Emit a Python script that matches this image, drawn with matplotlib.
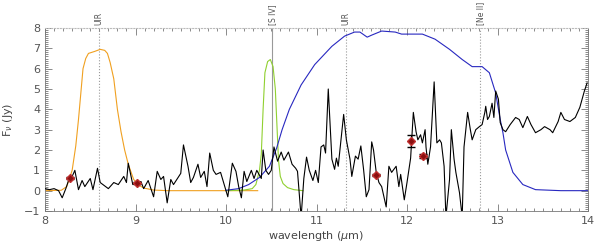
from matplotlib import pyplot as plt
from matplotlib.ticker import MultipleLocator
import numpy as np

# observed spectrum (wavelength in micron, flux in Jy)
spec_wl = [8.00, 8.05, 8.10, 8.15, 8.19, 8.23, 8.26, 8.29, 8.33, 8.37, 8.41, 8.44, 8.50, 8.53,
           8.58, 8.61, 8.64, 8.70, 8.76, 8.81, 8.87, 8.90, 8.92, 8.97, 9.02, 9.06, 9.09, 9.14,
           9.20, 9.24, 9.28, 9.31, 9.35, 9.39, 9.42, 9.47, 9.50, 9.53, 9.58, 9.61, 9.64, 9.69,
           9.72, 9.76, 9.79, 9.82, 9.86, 9.89, 9.94, 9.98, 10.02, 10.07, 10.11, 10.14, 10.17,
           10.20, 10.23, 10.28, 10.31, 10.34, 10.39, 10.41, 10.44, 10.47, 10.50, 10.53, 10.57,
           10.61, 10.64, 10.69, 10.73, 10.77, 10.79, 10.83, 10.86, 10.89, 10.92, 10.96, 10.99,
           11.02, 11.05, 11.08, 11.10, 11.13, 11.17, 11.20, 11.22, 11.24, 11.30, 11.33, 11.37,
           11.39, 11.43, 11.46, 11.49, 11.52, 11.55, 11.58, 11.61, 11.63, 11.66, 11.69, 11.72,
           11.77, 11.80, 11.83, 11.88, 11.91, 11.93, 11.97, 12.00, 12.04, 12.07, 12.10, 12.12,
           12.15, 12.17, 12.20, 12.21, 12.23, 12.26, 12.30, 12.33, 12.36, 12.38, 12.41, 12.43,
           12.47, 12.49, 12.52, 12.54, 12.58, 12.61, 12.63, 12.67, 12.70, 12.72, 12.76, 12.80,
           12.83, 12.86, 12.87, 12.89, 12.91, 12.94, 12.96, 12.98, 13.01, 13.03, 13.06, 13.09,
           13.14, 13.20, 13.24, 13.28, 13.33, 13.37, 13.42, 13.48, 13.52, 13.58, 13.61, 13.67,
           13.70, 13.74, 13.80, 13.86, 13.91, 13.96, 13.99]
spec_flux = [0.1, 0.05, 0.1, 0.0, -0.35, 0.1, 0.5, 0.6, 1.0, 0.05, 0.5, 0.2, 0.6, 0.05,
             1.1, 0.4, 0.3, 0.1, 0.4, 0.3, 0.7, 0.4, 1.35, 0.3, 0.4, 0.45, 0.1, 0.5,
             -0.3, 0.95, 0.55, 0.7, -0.6, 0.55, 0.3, 0.65, 0.85, 2.25, 1.2, 0.4, 0.65, 1.3,
             0.65, 0.95, 0.2, 1.85, 1.0, 0.8, 0.9, 0.3, -0.3, 1.35, 0.95, 0.2, -0.35,
             0.95, 0.45, 1.0, 0.6, 1.0, 0.6, 2.0, 1.0, 0.8, 1.0, 2.15, 1.45,
             1.9, 1.5, 1.9, 1.3, 1.1, 0.95, -1.3, 0.6, 1.65, 1.0, 0.5, 1.0,
             0.4, 2.15, 2.25, 1.85, 5.0, 1.55, 1.05, 1.6, 1.2, 3.75, 2.5, 1.55,
             0.7, 1.7, 1.55, 2.2, 1.05, -0.3, 0.05, 2.4, 2.0, 0.9, 0.4, 0.2,
             -0.8, 1.2, 0.9, 1.2, 0.2, 0.8, -0.45, 0.4, 1.6, 3.85, 2.9, 2.5,
             2.75, 2.35, 3.0, 2.15, 1.3, 2.15, 5.35, 2.35, 2.5, 2.35, 1.2, -1.3,
             0.55, 3.0, 1.55, 0.9, -0.1, -1.3, 2.15, 3.85, 3.0, 2.5, 3.0, 3.15,
             3.25, 3.85, 4.15, 3.5, 3.65, 4.3, 3.6, 4.9, 4.5, 3.35, 3.0, 2.9,
             3.25, 3.6, 3.5, 3.1, 3.65, 3.25, 2.85, 3.0, 3.15, 3.0, 2.85, 3.4,
             3.85, 3.5, 3.4, 3.6, 4.1, 4.9, 5.3]

# filter transmission curves (scaled)
orange_wl = [8.0, 8.18, 8.24, 8.30, 8.34, 8.37, 8.40, 8.42, 8.45, 8.48, 8.55, 8.61, 8.66, 8.69,
             8.72, 8.76, 8.80, 8.84, 8.88, 8.92, 8.98, 9.04, 9.10, 9.2, 9.35, 10.35]
orange_val = [0.0, 0.02, 0.2, 1.0, 2.2, 3.5, 5.0, 6.0, 6.5, 6.75, 6.85, 6.95, 6.9, 6.75,
              6.3, 5.5, 4.0, 2.9, 2.0, 1.3, 0.55, 0.25, 0.12, 0.03, 0.0, 0.0]

green_wl = [10.0, 10.2, 10.29, 10.33, 10.37, 10.39, 10.41, 10.43, 10.46, 10.49, 10.52, 10.545,
            10.56, 10.58, 10.60, 10.63, 10.68, 10.75, 10.85]
green_val = [0.0, 0.03, 0.1, 0.3, 1.0, 1.8, 4.0, 5.8, 6.35, 6.45, 6.1, 5.0,
             3.5, 1.5, 0.7, 0.35, 0.15, 0.05, 0.0]

blue_wl = [10.0, 10.14, 10.25, 10.37, 10.48, 10.56, 10.62, 10.70, 10.83, 10.98, 11.17, 11.31,
           11.42, 11.48, 11.56, 11.61, 11.72, 11.87, 11.94, 12.17, 12.31, 12.47, 12.61, 12.72,
           12.83, 12.91, 12.98, 13.03, 13.06, 13.09, 13.17, 13.28, 13.42, 13.7, 14.0]
blue_val = [0.02, 0.1, 0.3, 0.65, 1.2, 2.1, 3.0, 4.0, 5.2, 6.2, 7.1, 7.6,
            7.8, 7.8, 7.55, 7.65, 7.85, 7.8, 7.7, 7.7, 7.45, 6.95, 6.45, 6.1,
            6.1, 5.8, 4.8, 3.5, 2.85, 2.0, 0.9, 0.3, 0.05, 0.0, 0.0]

# photometry points
phot_wl = [8.28, 9.02, 11.66, 12.04, 12.18]
phot_flux = [0.6, 0.4, 0.75, 2.45, 1.7]
phot_err = [0.05, 0.05, 0.05, 0.3, 0.1]

# line identifications
line_wl = [8.6, 10.51, 11.33, 12.81]
line_names = ['UIR', '[S IV]', 'UIR', '[Ne II]']
line_styles = [':', '-', ':', ':']

fig = plt.figure(figsize=(6, 2.5), dpi=100)
ax = fig.add_axes([0.075, 0.156, 0.905, 0.732])

grey = '#777777'
for wl, name, ls in zip(line_wl, line_names, line_styles):
    ax.axvline(wl, color='#999999', ls=ls, lw=0.8, zorder=1)
    ax.text(wl, 8.15, name, rotation=90, ha='center', va='bottom',
            fontsize=5.5, color='#555555')

ax.plot(orange_wl, orange_val, color='#f0a020', lw=0.8, zorder=2)
ax.plot(green_wl, green_val, color='#90d030', lw=0.8, zorder=2)
ax.plot(blue_wl, blue_val, color='#2828c0', lw=0.8, zorder=2)
ax.plot(spec_wl, spec_flux, color='black', lw=0.8, zorder=3)

ax.errorbar(phot_wl, phot_flux, yerr=phot_err, fmt='D', ms=4, mfc='#8b1010',
            mec='#c03030', ecolor='black', elinewidth=0.8, capsize=3, zorder=4)

ax.set_xlim(8, 14)
ax.set_ylim(-1, 8)
ax.xaxis.set_major_locator(MultipleLocator(1))
ax.xaxis.set_minor_locator(MultipleLocator(0.1))
ax.yaxis.set_major_locator(MultipleLocator(1))
ax.yaxis.set_minor_locator(MultipleLocator(0.1))
ax.tick_params(which='both', direction='in', top=True, right=True, colors=grey,
               labelcolor='#555555', labelsize=8, width=0.6)
ax.tick_params(which='major', length=5)
ax.tick_params(which='minor', length=2.5)
for side in ['left', 'right', 'bottom']:
    ax.spines[side].set_color(grey)
    ax.spines[side].set_linewidth(0.6)
ax.spines['top'].set_color('#bbbbbb')
ax.spines['top'].set_linestyle(':')

ax.set_xlabel(r'wavelength ($\mu$m)', fontsize=8, color='#444444', labelpad=2)
ax.set_ylabel(r'F$_\nu$ (Jy)', fontsize=8, color='#444444', labelpad=6)

fig.savefig('out.png', dpi=100)
